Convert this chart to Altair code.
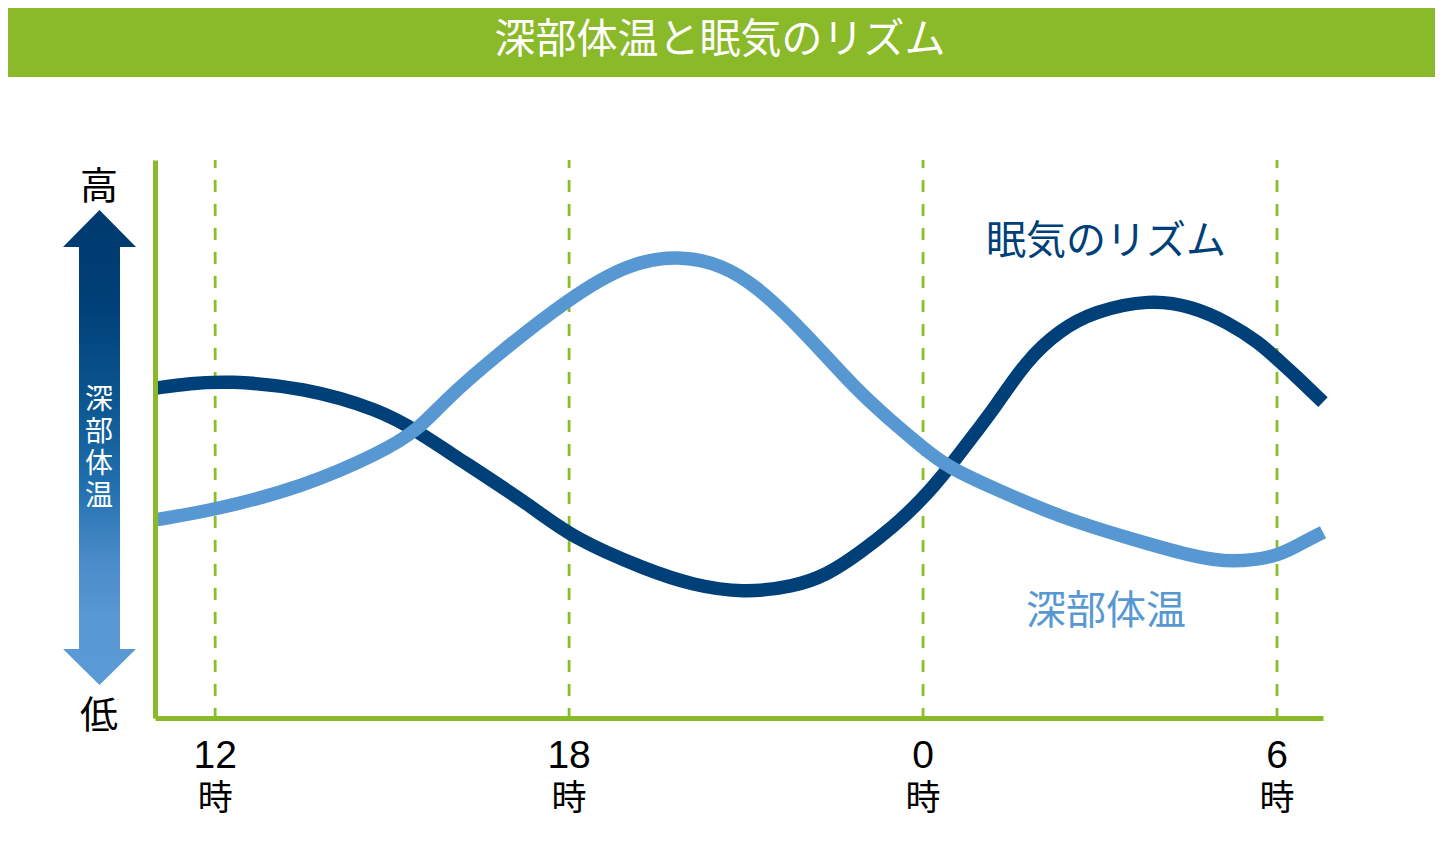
import altair as alt
import pandas as pd

# ---------------- data ----------------
title_text = "深部体温と眠気のリズム"
series_names = ["眠気のリズム", "深部体温"]

# 眠気のリズム (sleepiness rhythm) : hour of day (continuous, 24 = 0時) -> level (0-100)
sleep_hours = [10.98, 11.58, 12.2, 13.49, 14.8, 15.44, 16.08, 17.39, 18.03, 19.32,
               20.10, 20.95, 21.80, 22.37, 22.93, 23.49, 23.98, 24.41, 24.92, 25.19,
               25.76, 26.32, 26.88, 27.85, 28.58, 29.15, 29.71, 29.98, 30.27, 30.78]
sleep_level = [59.1, 60.0, 60.4, 59.3, 55.2, 51.3, 46.8, 37.8, 32.4, 26.5,
               23.8, 22.4, 23.5, 25.6, 29.6, 34.2, 39.1, 44.4, 51.6, 55.2,
               64.2, 69.5, 72.8, 75.1, 73.7, 71.0, 67.2, 64.5, 61.8, 56.6]

# 深部体温 (core body temperature)
temp_hours = [10.98, 12.00, 13.49, 14.8, 15.44, 15.9, 16.73, 18.03, 19.0, 19.85,
              20.61, 21.19, 21.75, 22.31, 22.88, 23.44, 23.98, 24.41, 25.19, 26.32,
              27.46, 28.58, 29.25, 29.98, 30.27, 30.78]
temp_level = [35.5, 37.3, 41.4, 47.5, 51.6, 57.0, 64.7, 75.5, 81.5, 83.0,
              81.2, 77.2, 71.7, 65.4, 58.8, 53.4, 48.6, 45.0, 41.2, 36.0,
              32.3, 28.9, 27.8, 28.9, 30.5, 33.3]

tick_hours = [12, 18, 24, 30]
tick_labels = ["12", "18", "0", "6"]
tick_unit = "時"

label_hours = [27.1, 27.1]
label_levels = [85.3, 19.0]

arrow_top = "高"
arrow_bottom = "低"
arrow_text = ["深", "部", "体", "温"]

# ---------------- styling ----------------
GREEN = "#8ab92a"
DASH_GREEN = "#8cbf26"
NAVY = "#004078"
LIGHT = "#5898d2"
JP = "Noto Sans CJK JP"

W, H = 1168, 558
X_DOMAIN = [10.98, 30.78]

sleep_df = pd.DataFrame({"h": sleep_hours, "v": sleep_level})
temp_df = pd.DataFrame({"h": temp_hours, "v": temp_level})
tick_df = pd.DataFrame({"h": tick_hours, "label": tick_labels, "unit": [tick_unit] * len(tick_hours)})
lab_df = pd.DataFrame({"h": label_hours, "v": label_levels, "name": series_names})
one = pd.DataFrame({"k": [0]})

xscale = alt.Scale(domain=X_DOMAIN, nice=False, zero=False)
yscale = alt.Scale(domain=[0, 100], nice=False, zero=False)
xaxis = alt.Axis(domain=True, domainColor=GREEN, domainWidth=5, ticks=False, labels=False,
                 grid=False, title=None, zindex=1)
yaxis = alt.Axis(domain=True, domainColor=GREEN, domainWidth=5, ticks=False, labels=False,
                 grid=False, title=None, zindex=1)

# title bar
bar = alt.Chart(one).mark_rect(color=GREEN).encode(
    x=alt.value(-155), x2=alt.value(1288), y=alt.value(-160), y2=alt.value(-83))
title = alt.Chart(one).mark_text(text=title_text, font=JP, fontSize=41, color="white",
                                 align="center", baseline="middle").encode(
    x=alt.value(565), y=alt.value(-119))

# double arrow with gradient
arrow_path = ("M0,-1 L0.1537,-0.8442 L0.0863,-0.8442 L0.0863,0.8484 L0.1537,0.8484 L0,1 "
              "L-0.1537,0.8484 L-0.0863,0.8484 L-0.0863,-0.8442 L-0.1537,-0.8442 Z")
grad = alt.LinearGradient(
    gradient="linear", x1=0, x2=0, y1=0, y2=1,
    stops=[alt.GradientStop(color="#003a6e", offset=0),
           alt.GradientStop(color="#003f77", offset=0.19),
           alt.GradientStop(color="#0b5690", offset=0.40),
           alt.GradientStop(color="#1f6eac", offset=0.57),
           alt.GradientStop(color="#4a8cc9", offset=0.74),
           alt.GradientStop(color="#5898d3", offset=0.86),
           alt.GradientStop(color="#5b9bd5", offset=1)])
arrow = alt.Chart(one).mark_point(shape=arrow_path, size=475 * 475, filled=True, fill=grad,
                                  opacity=1, strokeWidth=0).encode(
    x=alt.value(-55.5), y=alt.value(287.5))

arrow_chars = [
    alt.Chart(one).mark_text(text=ch, font=JP, fontSize=28, color="white",
                             align="center", baseline="middle").encode(
        x=alt.value(-56), y=alt.value(241 + 32 * i))
    for i, ch in enumerate(arrow_text)
]
hi = alt.Chart(one).mark_text(text=arrow_top, font=JP, fontSize=38, color="black",
                              align="center", baseline="middle").encode(
    x=alt.value(-56), y=alt.value(28))
lo = alt.Chart(one).mark_text(text=arrow_bottom, font=JP, fontSize=38, color="black",
                              align="center", baseline="middle").encode(
    x=alt.value(-56), y=alt.value(557))

# dashed hour rules
rules = alt.Chart(tick_df).mark_rule(color=DASH_GREEN, strokeWidth=2.8, strokeDash=[12, 12],
                                     strokeDashOffset=4).encode(
    x=alt.X("h:Q", scale=xscale, axis=xaxis), y=alt.value(0), y2=alt.value(H))

sleep_line = alt.Chart(sleep_df).mark_line(color=NAVY, strokeWidth=13.5, interpolate="basis",
                                           strokeCap="butt").encode(
    x=alt.X("h:Q", scale=xscale, axis=xaxis),
    y=alt.Y("v:Q", scale=yscale, axis=yaxis))
temp_line = alt.Chart(temp_df).mark_line(color=LIGHT, strokeWidth=13.5, interpolate="basis",
                                         strokeCap="butt").encode(
    x=alt.X("h:Q", scale=xscale, axis=xaxis),
    y=alt.Y("v:Q", scale=yscale, axis=yaxis))

labels = alt.Chart(lab_df).mark_text(font=JP, fontSize=40, align="center", baseline="middle").encode(
    x=alt.X("h:Q", scale=xscale, axis=xaxis),
    y=alt.Y("v:Q", scale=yscale, axis=yaxis),
    text="name:N",
    color=alt.Color("name:N", scale=alt.Scale(domain=series_names, range=[NAVY, LIGHT]), legend=None))

tick_txt = alt.Chart(tick_df).mark_text(font="Liberation Sans", fontSize=39, color="black",
                                        align="center", baseline="middle").encode(
    x=alt.X("h:Q", scale=xscale, axis=xaxis), y=alt.value(596), text="label:N")
unit_txt = alt.Chart(tick_df).mark_text(font=JP, fontSize=35, color="black",
                                        align="center", baseline="middle").encode(
    x=alt.X("h:Q", scale=xscale, axis=xaxis), y=alt.value(639), text="unit:N")

chart = alt.layer(bar, title, arrow, *arrow_chars, hi, lo, rules, sleep_line, temp_line,
                  labels, tick_txt, unit_txt).properties(
    width=W, height=H,
    autosize=alt.AutoSizeParams(type="none"),
    padding={"left": 147, "top": 152, "right": 112, "bottom": 110},
    background="white",
).configure_view(stroke=None)

chart.save("out.html", embed_options={"renderer": "svg", "actions": False})
